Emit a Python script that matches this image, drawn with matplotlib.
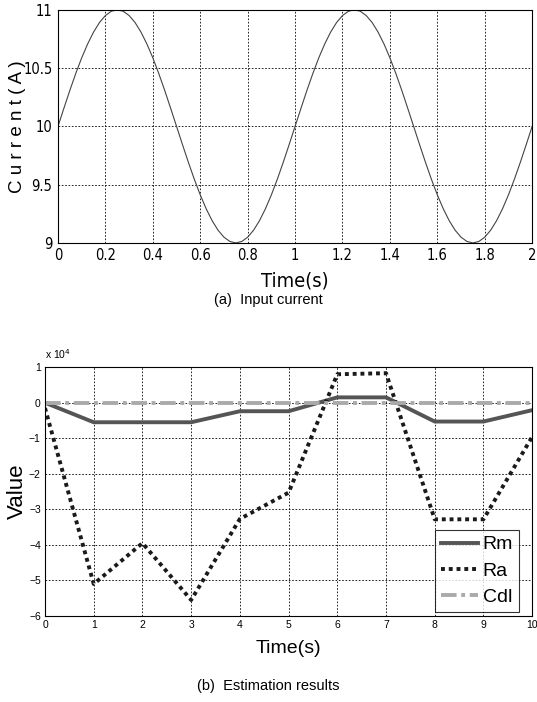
import matplotlib
matplotlib.use("Agg")
import matplotlib.pyplot as plt

# (a) input current, every 0.025 s over one period (repeats twice)
t_current = [i * 0.025 for i in range(81)]
one_period = [10.0, 10.156, 10.309, 10.454, 10.588, 10.707, 10.809, 10.891, 10.951, 10.988,
              11.0, 10.988, 10.951, 10.891, 10.809, 10.707, 10.588, 10.454, 10.309, 10.156,
              10.0, 9.844, 9.691, 9.546, 9.412, 9.293, 9.191, 9.109, 9.049, 9.012,
              9.0, 9.012, 9.049, 9.109, 9.191, 9.293, 9.412, 9.546, 9.691, 9.844]
current = one_period + one_period + [10.0]

# (b) estimation results
t_est = [0, 1, 2, 3, 4, 5, 6, 7, 8, 9, 10]
rm = [0, -5500, -5500, -5500, -2400, -2400, 1500, 1500, -5300, -5300, -2100]
ra = [-1500, -51000, -39500, -55500, -32700, -25300, 8000, 8300, -32800, -32800, -9600]
cdl = [0, 0, 0, 0, 0, 0, 0, 0, 0, 0, 0]
scale = 1e4

arial = ['Liberation Sans', 'DejaVu Sans']

fig = plt.figure(figsize=(5.37, 7.02), dpi=100)

ax1 = fig.add_axes([0.108, 0.654, 0.883, 0.332])
ax1.plot(t_current, current, color='#444444', lw=0.8)
ax1.set_xlim(0, 2)
ax1.set_ylim(9, 11)
ax1.set_xticks([0, 0.2, 0.4, 0.6, 0.8, 1, 1.2, 1.4, 1.6, 1.8, 2])
ax1.set_xticklabels(['0', '0.2', '0.4', '0.6', '0.8', '1', '1.2', '1.4', '1.6', '1.8', '2'])
ax1.set_yticks([9, 9.5, 10, 10.5, 11])
ax1.set_yticklabels(['9', '9.5', '10', '10.5', '11'])
ax1.grid(True, color='black', linestyle=(0, (2, 2)), lw=0.6)
ax1.tick_params(direction='in', length=0, labelsize=10.5, pad=4)
for lab in ax1.get_xticklabels() + ax1.get_yticklabels():
    lab.set_family('DejaVu Sans')
    lab.set_stretch('condensed')
ax1.set_xlabel('Time(s)', family='DejaVu Sans', stretch='condensed', fontsize=14.5, labelpad=6)
ax1.set_ylabel('C u r r e n t ( A )', family=arial, fontsize=13.5, labelpad=-2)
fig.text(0.5, 0.573, '(a)  Input current', ha='center', va='center', family=arial, fontsize=10.5)

ax2 = fig.add_axes([0.0838, 0.1225, 0.9072, 0.3545])
ax2.plot(t_est, [v / scale for v in rm], color='#555555', lw=2.8, label='Rm', solid_joinstyle='round')
ax2.plot(t_est, [v / scale for v in ra], color='#1a1a1a', lw=2.8, linestyle=(0, (1, 1)), label='Ra')
ax2.plot(t_est, [v / scale for v in cdl], color='#aaaaaa', lw=2.8, linestyle=(0, (4, 1.2, 1, 1.2)), label='Cdl')
ax2.set_xlim(0, 10)
ax2.set_ylim(-6, 1)
ax2.set_xticks(t_est)
ax2.set_yticks([-6, -5, -4, -3, -2, -1, 0, 1])
ax2.grid(True, color='black', linestyle=(0, (2, 2)), lw=0.6)
ax2.tick_params(direction='in', length=0, labelsize=7.5, pad=3)
for lab in ax2.get_xticklabels() + ax2.get_yticklabels():
    lab.set_family(arial)
ax2.text(0.0, 1.025, 'x 10$^4$', transform=ax2.transAxes, family=arial, fontsize=7.5, ha='left', va='bottom')
ax2.set_xlabel('Time(s)', family=arial, fontsize=14, labelpad=7)
ax2.set_ylabel('Value', family=arial, fontsize=16, labelpad=1)
leg = ax2.legend(loc='lower right', bbox_to_anchor=(0.973, 0.016), borderaxespad=0,
                 prop={'family': arial, 'size': 14}, frameon=True, fancybox=False,
                 edgecolor='black', handlelength=1.9, handletextpad=0.25, borderpad=0.3,
                 labelspacing=0.45)
leg.get_frame().set_linewidth(0.8)
fig.text(0.5, 0.023, '(b)  Estimation results', ha='center', va='center', family=arial, fontsize=10.5)

fig.savefig('out.png', dpi=100)
